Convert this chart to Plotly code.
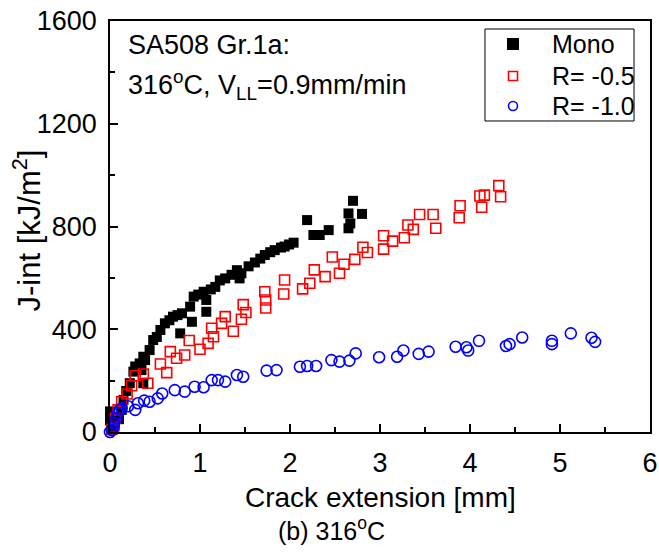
import plotly.graph_objects as go

# Mono (filled black squares)
mono_x = [0.02, 0.0, 0.0, 0.05, 0.10, 0.13, 0.15, 0.18, 0.22, 0.26, 0.28, 0.33, 0.35, 0.37, 0.37,
          0.39, 0.44, 0.48, 0.52, 0.56, 0.61, 0.66, 0.70, 0.75, 0.80, 0.78, 0.89, 0.91, 0.93, 0.98,
          1.04, 1.07, 1.07, 1.12, 1.17, 1.22, 1.28, 1.35, 1.41, 1.44, 1.46, 1.54, 1.61, 1.67, 1.72,
          1.78, 1.83, 1.90, 1.94, 1.99, 2.04, 2.19, 2.26, 2.33, 2.43, 2.65, 2.67, 2.65, 2.80, 2.70]
mono_y = [10, 45, 80, 25, 50, 86, 125, 160, 190, 235, 255, 267, 241, 293, 190,
          280, 319, 358, 370, 397, 423, 435, 449, 455, 462, 384, 488, 429, 527, 535,
          546, 514, 468, 555, 565, 590, 598, 612, 630, 598, 618, 645, 660, 675, 689,
          700, 708, 718, 722, 730, 737, 825, 767, 767, 786, 793, 812, 851, 849, 900]

# R = -0.5 (open red squares)
r05_x = [0.02, 0.04, 0.06, 0.09, 0.13, 0.19, 0.24, 0.28, 0.37, 0.42, 0.56, 0.63, 0.67, 0.74, 0.83,
         0.88, 1.00, 1.09, 1.13, 1.15, 1.24, 1.28, 1.37, 1.46, 1.48, 1.51, 1.72, 1.73, 1.73, 1.93,
         1.94, 2.14, 2.22, 2.27, 2.39, 2.47, 2.55, 2.60, 2.72, 2.81, 2.86, 3.04, 3.04, 3.14, 3.27,
         3.31, 3.37, 3.44, 3.59, 3.62, 3.88, 3.89, 4.11, 4.16, 4.13, 4.32, 4.34]
r05_y = [10, 21, 53, 86, 118, 148, 180, 219, 226, 190, 265, 231, 313, 287, 300,
         356, 322, 345, 404, 371, 423, 449, 392, 439, 496, 465, 546, 514, 483, 537,
         592, 557, 579, 631, 605, 681, 618, 653, 672, 719, 699, 712, 764, 743, 756,
         806, 789, 847, 847, 793, 834, 881, 919, 922, 875, 959, 916]

# R = -1.0 (open blue circles)
r10_x = [0.0, 0.02, 0.04, 0.04, 0.07, 0.09, 0.11, 0.13, 0.20, 0.28, 0.31, 0.38, 0.44, 0.53, 0.58,
         0.72, 0.83, 0.94, 1.04, 1.13, 1.20, 1.28, 1.41, 1.48, 1.74, 1.85, 2.11, 2.19, 2.29, 2.46,
         2.55, 2.66, 2.73, 2.99, 3.19, 3.26, 3.43, 3.54, 3.84, 3.96, 3.98, 4.10, 4.40, 4.44, 4.58,
         4.91, 4.91, 5.12, 5.35, 5.39]
r10_y = [0, 8, 20, 34, 53, 73, 86, 92, 100, 86, 112, 122, 118, 131, 150,
         163, 157, 176, 174, 202, 202, 196, 222, 215, 239, 241, 254, 257, 257, 280,
         274, 278, 306, 291, 293, 317, 304, 313, 332, 330, 317, 355, 335, 342, 368,
         355, 342, 384, 367, 351]

series_names = ["Mono", "R= -0.5", "R= -1.0"]
x_ticks = [0, 1, 2, 3, 4, 5, 6]
y_ticks = [0, 400, 800, 1200, 1600]

FONT = "Arial, Liberation Sans, sans-serif"

styles = [
    dict(symbol="square", color="black", line=dict(width=0)),
    dict(symbol="square-open", color="#ff0000", line=dict(width=1.6, color="#ff0000")),
    dict(symbol="circle-open", color="#0000ff", line=dict(width=1.6, color="#0000ff")),
]
data_sizes = [10, 10, 11]
legend_sizes = [12, 9, 9]

fig = go.Figure()
for (xs, ys), name, st, sz in zip([(mono_x, mono_y), (r05_x, r05_y), (r10_x, r10_y)],
                                  series_names, styles, data_sizes):
    fig.add_trace(go.Scatter(x=xs, y=ys, mode="markers", name=name, cliponaxis=False,
                             showlegend=False, marker=dict(size=sz, **st)))

# hand-drawn legend (box, symbols on an overlay 0..1 axis, texts)
leg_left, leg_right, leg_bottom, leg_top = 0.6944, 0.9704, 0.7567, 0.9805
leg_sym_x = 0.7463
leg_txt_x = 0.8148
leg_rows_y = [0.944, 0.866, 0.7932]
for name, st, sz, yy in zip(series_names, styles, legend_sizes, leg_rows_y):
    fig.add_trace(go.Scatter(x=[leg_sym_x], y=[yy], mode="markers", xaxis="x2", yaxis="y2",
                             showlegend=False, hoverinfo="skip", cliponaxis=False,
                             marker=dict(size=sz, **st)))

axis_common = dict(showgrid=False, zeroline=False, showline=True, linecolor="black",
                   linewidth=1.5, mirror=True, ticks="inside", ticklen=8, tickwidth=1.5,
                   automargin=False,
                   tickcolor="black", tickfont=dict(family=FONT, size=27, color="black"))

fig.update_layout(
    xaxis=dict(range=[0, 6], tickvals=x_ticks, ticktext=[str(v) for v in x_ticks],
               ticklabelstandoff=6,
               minor=dict(ticks="inside", dtick=0.5, ticklen=5, tickwidth=1.5, tickcolor="black"),
               **axis_common),
    yaxis=dict(range=[0, 1600], tickvals=y_ticks, ticktext=[str(v) for v in y_ticks],
               ticklabelstandoff=6,
               minor=dict(ticks="inside", dtick=200, ticklen=5, tickwidth=1.5, tickcolor="black"),
               **axis_common),
    xaxis2=dict(overlaying="x", range=[0, 1], visible=False, fixedrange=True),
    yaxis2=dict(overlaying="y", range=[0, 1], visible=False, fixedrange=True),
)

annotations = [
    dict(text="SA508 Gr.1a:", x=0.03, y=0.942, xref="paper", yref="paper",
         xanchor="left", yanchor="middle", showarrow=False,
         font=dict(family=FONT, size=27, color="black")),
    dict(text="316<sup>o</sup>C, V<sub>LL</sub>=0.9mm/min", x=0.03, y=0.845, xref="paper",
         yref="paper", xanchor="left", yanchor="middle", showarrow=False,
         font=dict(family=FONT, size=27, color="black")),
    dict(text="Crack extension [mm]", x=0.5, y=-0.16, xref="paper", yref="paper",
         xanchor="center", yanchor="middle", showarrow=False,
         font=dict(family=FONT, size=28, color="black")),
    dict(text="J-int [kJ/m<sup>2</sup>]", x=-0.154, y=0.49, xref="paper", yref="paper",
         xanchor="center", yanchor="middle", showarrow=False, textangle=-90,
         font=dict(family=FONT, size=31, color="black")),
    dict(text="(b) 316<sup>o</sup>C", x=0.411, y=-0.237, xref="paper", yref="paper",
         xanchor="center", yanchor="middle", showarrow=False,
         font=dict(family=FONT, size=25, color="black")),
]
for name, yy in zip(series_names, leg_rows_y):
    annotations.append(dict(text=name, x=leg_txt_x, y=yy, xref="paper", yref="paper",
                            xanchor="left", yanchor="middle", showarrow=False,
                            font=dict(family=FONT, size=25, color="black")))

fig.update_layout(
    width=659, height=552,
    margin=dict(l=110, r=9, t=21, b=120),
    paper_bgcolor="white", plot_bgcolor="white",
    showlegend=False,
    annotations=annotations,
    shapes=[dict(type="rect", xref="paper", yref="paper", x0=leg_left, x1=leg_right,
                 y0=leg_bottom, y1=leg_top, line=dict(color="black", width=1),
                 fillcolor="rgba(0,0,0,0)", layer="above")],
)

fig.write_html("out.html")
